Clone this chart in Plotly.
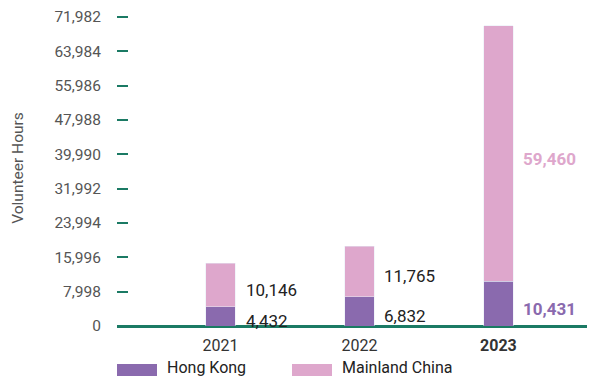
import plotly.graph_objects as go

years = ["2021", "2022", "2023"]
year_labels = ["2021", "2022", "<b>2023</b>"]
hong_kong = [4432, 6832, 10431]
mainland = [10146, 11765, 59460]
y_ticks = [0, 7998, 15996, 23994, 31992, 39990, 47988, 55986, 63984, 71982]

HK_COLOR = "#8a6aae"
ML_COLOR = "#dea7cc"
GREEN = "#1b7a64"
FONT = "Roboto, Arial, sans-serif"

# the page body adds an 8px margin, so size the figure to the visible area
OFF = 8
W, H = 595 - OFF, 376 - OFF
ML, MR, MT, MB = 117 - OFF, 0, 10 - OFF, 376 - 326
plot_h = H - MT - MB


def py(p):
    # screen pixel row -> paper y
    return (H - MB - (p - OFF)) / plot_h


def px(p):
    return (p - OFF - ML) / (W - ML - MR)


fig = go.Figure()
fig.add_trace(go.Bar(x=[0, 1, 2], y=hong_kong, marker_color=HK_COLOR, width=0.21,
                     name="Hong Kong", showlegend=False))
fig.add_trace(go.Bar(x=[0, 1, 2], y=mainland, marker_color=ML_COLOR, width=0.21,
                     name="Mainland China", showlegend=False))

# value labels next to each segment
for i, (hk, ml) in enumerate(zip(hong_kong, mainland)):
    last = i == len(years) - 1
    for val, base, col in ((hk, 0, HK_COLOR), (ml, hk, ML_COLOR)):
        txt = f"{val:,}"
        fig.add_annotation(
            x=i, y=base + val / 2, text=f"<b>{txt}</b>" if last else txt,
            xanchor="left", yanchor="middle", xshift=23, yshift=-5,
            showarrow=False,
            font=dict(family=FONT, size=17, color=col if last else "#222222"),
        )

# legend drawn by hand (wide swatches)
for x0, label, col in ((117, "Hong Kong", HK_COLOR), (292, "Mainland China", ML_COLOR)):
    fig.add_shape(type="rect", xref="paper", yref="paper",
                  x0=px(x0), x1=px(x0 + 40), y0=py(376), y1=py(364),
                  fillcolor=col, line_width=0)
    fig.add_annotation(xref="paper", yref="paper", x=px(x0 + 48), y=py(367),
                       text=label, showarrow=False, xanchor="left", yanchor="middle",
                       font=dict(family=FONT, size=16, color="#222222"))

fig.update_layout(
    width=W, height=H,
    margin=dict(l=ML, r=MR, t=MT, b=MB),
    paper_bgcolor="white", plot_bgcolor="white",
    barmode="stack",
    font=dict(family=FONT, color="#555555"),
)
fig.update_xaxes(
    range=[-0.745, 2.695], tickvals=[0, 1, 2], ticktext=year_labels,
    showgrid=False, zeroline=False, showline=False, ticks="",
    ticklabelstandoff=8,
    tickfont=dict(size=16, color="#333333"), automargin=False,
)
fig.update_yaxes(
    range=[0, 73600], tickvals=y_ticks, tickformat=",",
    showgrid=False, zeroline=True, zerolinecolor=GREEN, zerolinewidth=3,
    showline=False, ticks="inside", ticklen=11, tickwidth=2, tickcolor=GREEN,
    ticklabelstandoff=15, automargin=False,
    tickfont=dict(size=15.5, color="#555555"),
    title=dict(text="Volunteer Hours", font=dict(size=15.5, color="#555555"), standoff=26),
)

fig.write_html("out.html")
